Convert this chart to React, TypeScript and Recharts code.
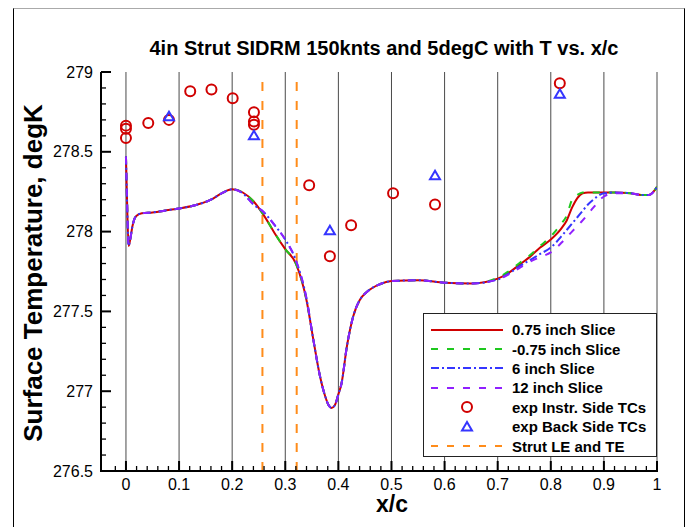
import React from 'react';
import {
  ComposedChart,
  Line,
  Scatter,
  XAxis,
  YAxis,
  ReferenceLine,
} from 'recharts';

// x/c stations of the CFD surface slices
const CURVE_X = [
  0, 0.002, 0.005, 0.008, 0.012, 0.016, 0.02, 0.03, 0.05, 0.08, 0.1, 0.13, 0.16, 0.18, 0.2, 0.22,
  0.24, 0.26, 0.28, 0.3, 0.32, 0.34, 0.353, 0.365, 0.375, 0.382, 0.387, 0.393, 0.4, 0.406, 0.416,
  0.428, 0.44, 0.453, 0.478, 0.5, 0.55, 0.6, 0.65, 0.7, 0.72, 0.74, 0.76, 0.78, 0.8, 0.82, 0.83,
  0.84, 0.85, 0.86, 0.87, 0.88, 0.9, 0.92, 0.95, 0.97, 0.985, 1.0,
];

const SLICE_075 = [
  278.47, 278.2, 277.91, 277.95, 278.03, 278.08, 278.1, 278.115, 278.12, 278.135, 278.145, 278.165,
  278.2, 278.24, 278.265, 278.245, 278.19, 278.1, 277.99, 277.89, 277.8, 277.57, 277.32, 277.1,
  276.97, 276.91, 276.895, 276.91, 276.98, 277.05, 277.28, 277.47, 277.57, 277.62, 277.67, 277.69,
  277.695, 277.68, 277.675, 277.705, 277.74, 277.79, 277.84, 277.9, 277.95, 278.02, 278.07, 278.15,
  278.21, 278.24, 278.245, 278.245, 278.245, 278.245, 278.24, 278.23, 278.23, 278.28,
];

const SLICE_M075 = [
  278.47, 278.2, 277.91, 277.95, 278.03, 278.08, 278.1, 278.115, 278.12, 278.135, 278.145, 278.165,
  278.2, 278.24, 278.265, 278.245, 278.19, 278.1, 277.99, 277.89, 277.8, 277.57, 277.32, 277.1,
  276.97, 276.91, 276.895, 276.91, 276.98, 277.05, 277.28, 277.47, 277.57, 277.62, 277.67, 277.69,
  277.695, 277.68, 277.675, 277.71, 277.75, 277.8, 277.85, 277.91, 277.97, 278.05, 278.1, 278.2,
  278.23, 278.245, 278.245, 278.245, 278.245, 278.245, 278.24, 278.23, 278.23, 278.28,
];

const SLICE_6 = [
  278.47, 278.2, 277.91, 277.95, 278.03, 278.08, 278.1, 278.115, 278.12, 278.135, 278.145, 278.165,
  278.2, 278.24, 278.265, 278.24, 278.17, 278.12, 278.04, 277.95, 277.82, 277.58, 277.32, 277.1,
  276.97, 276.91, 276.895, 276.91, 276.98, 277.05, 277.28, 277.47, 277.57, 277.62, 277.67, 277.69,
  277.695, 277.68, 277.675, 277.7, 277.735, 277.78, 277.82, 277.86, 277.9, 277.97, 278.01, 278.05,
  278.09, 278.13, 278.17, 278.2, 278.24, 278.245, 278.24, 278.23, 278.23, 278.28,
];

const SLICE_12 = [
  278.47, 278.2, 277.91, 277.95, 278.03, 278.08, 278.1, 278.115, 278.12, 278.135, 278.145, 278.165,
  278.2, 278.24, 278.265, 278.24, 278.17, 278.12, 278.04, 277.95, 277.82, 277.58, 277.32, 277.1,
  276.97, 276.91, 276.895, 276.91, 276.98, 277.05, 277.28, 277.47, 277.57, 277.62, 277.67, 277.69,
  277.695, 277.68, 277.675, 277.7, 277.73, 277.77, 277.81, 277.84, 277.87, 277.93, 277.965, 278.0,
  278.035, 278.07, 278.11, 278.15, 278.22, 278.24, 278.24, 278.23, 278.23, 278.28,
];

// thermocouple readings
const INSTR_X = [0, 0, 0, 0.042, 0.081, 0.121, 0.161, 0.201, 0.241, 0.241, 0.241, 0.345, 0.384, 0.424, 0.503, 0.582, 0.817];
const INSTR_T = [278.664, 278.644, 278.586, 278.68, 278.7, 278.88, 278.89, 278.835, 278.748, 278.69, 278.67, 278.29, 277.846, 278.04, 278.24, 278.17, 278.93];
const BACK_X = [0.081, 0.241, 0.384, 0.582, 0.817];
const BACK_T = [278.72, 278.6, 278.006, 278.35, 278.86];

const STRUT_LE_TE = [0.257, 0.3215];

const X_TICKS = [0, 0.1, 0.2, 0.3, 0.4, 0.5, 0.6, 0.7, 0.8, 0.9, 1];
const Y_TICKS = [276.5, 277, 277.5, 278, 278.5, 279];
const X_MINOR = Array.from({ length: 52 }, (_, i) => Math.round((i * 0.02 - 0.02) * 1000) / 1000);
const Y_MINOR = Array.from({ length: 26 }, (_, i) => Math.round((276.5 + i * 0.1) * 10) / 10);

const X_MIN = -0.047;
const X_MAX = 1;
const Y_MIN = 276.5;
const Y_MAX = 279;

const FONT = "Arial, 'Liberation Sans', Helvetica, sans-serif";
const RED = '#d00000';
const GREEN = '#1ec81e';
const BLUE = '#3535ff';
const PURPLE = '#9020ff';
const ORANGE = '#ff8c1a';

// chart box
const W = 694;
const H = 527;
const MARGIN = { top: 72, right: 37, bottom: 26, left: 0 };
const Y_AXIS_W = 101;
const X_AXIS_H = 30;
const PLOT_L = MARGIN.left + Y_AXIS_W;
const PLOT_R = W - MARGIN.right;
const PLOT_T = MARGIN.top;
const PLOT_B = H - MARGIN.bottom - X_AXIS_H;

const SERIES = [
  { key: 's075', name: '0.75 inch Slice', color: RED, dash: undefined as string | undefined, values: SLICE_075 },
  { key: 'sm075', name: '-0.75 inch Slice', color: GREEN, dash: '7 9', values: SLICE_M075 },
  { key: 's6', name: '6 inch Slice', color: BLUE, dash: '8 3 2 3', values: SLICE_6 },
  { key: 's12', name: '12 inch Slice', color: PURPLE, dash: '7 9', values: SLICE_12 },
];

const curveRows = CURVE_X.map((x, i) => {
  const row: Record<string, number> = { x };
  SERIES.forEach((s) => (row[s.key] = s.values[i]));
  return row;
});
const instrPts = INSTR_X.map((x, i) => ({ x, y: INSTR_T[i] }));
const backPts = BACK_X.map((x, i) => ({ x, y: BACK_T[i] }));

const isMajor = (list: number[], v: number) => list.some((t) => Math.abs(t - v) < 1e-6);

const RingShape = (props: any) => (
  <circle cx={props.cx} cy={props.cy} r={5} fill="none" stroke={RED} strokeWidth={2} />
);
const TriShape = (props: any) => {
  const { cx, cy } = props;
  return (
    <polygon
      points={`${cx},${cy - 5} ${cx - 5},${cy + 3.5} ${cx + 5},${cy + 3.5}`}
      fill="none"
      stroke={BLUE}
      strokeWidth={2}
    />
  );
};

// left/bottom axis frame with tecplot-style inward ticks, laid over the plot
function AxisFrame() {
  const px = (v: number) => PLOT_L + ((v - X_MIN) / (X_MAX - X_MIN)) * (PLOT_R - PLOT_L);
  const py = (v: number) => PLOT_B - ((v - Y_MIN) / (Y_MAX - Y_MIN)) * (PLOT_B - PLOT_T);
  return (
    <svg
      width={W}
      height={H}
      style={{ position: 'absolute', left: 0, top: 0, pointerEvents: 'none' }}
    >
      <line x1={PLOT_L} x2={PLOT_R + 1} y1={PLOT_B} y2={PLOT_B} stroke="#000" strokeWidth={2} />
      <line x1={PLOT_L} x2={PLOT_L} y1={PLOT_T} y2={PLOT_B + 1} stroke="#000" strokeWidth={2} />
      {X_MINOR.map((v) => {
        const major = isMajor(X_TICKS, v);
        return (
          <line
            key={`xt${v}`}
            x1={px(v)}
            x2={px(v)}
            y1={PLOT_B}
            y2={PLOT_B - (major ? 10 : 5)}
            stroke="#000"
            strokeWidth={major ? 2 : 1.3}
          />
        );
      })}
      {Y_MINOR.map((v) => {
        const major = isMajor(Y_TICKS, v);
        return (
          <line
            key={`yt${v}`}
            x1={PLOT_L}
            x2={PLOT_L + (major ? 10 : 5)}
            y1={py(v)}
            y2={py(v)}
            stroke="#000"
            strokeWidth={major ? 2 : 1.3}
          />
        );
      })}
    </svg>
  );
}

function LegendBox() {
  const rows = [
    ...SERIES.map((s) => ({ name: s.name, kind: 'line', color: s.color, dash: s.dash })),
    { name: 'exp Instr. Side TCs', kind: 'ring', color: RED, dash: undefined },
    { name: 'exp Back Side TCs', kind: 'tri', color: BLUE, dash: undefined },
    { name: 'Strut LE and TE', kind: 'line', color: ORANGE, dash: '7 9' },
  ];
  return (
    <div
      style={{
        position: 'absolute',
        left: 423,
        top: 313,
        width: 234,
        height: 144,
        boxSizing: 'border-box',
        border: '1px solid #222',
        background: '#fff',
        paddingTop: 6,
      }}
    >
      {rows.map((r) => (
        <div key={r.name} style={{ display: 'flex', alignItems: 'center', height: 19.4 }}>
          <svg width={88} height={14} style={{ flex: 'none' }}>
            {r.kind === 'line' && (
              <line x1={7} x2={79} y1={7} y2={7} stroke={r.color} strokeWidth={2} strokeDasharray={r.dash} />
            )}
            {r.kind === 'ring' && <circle cx={43} cy={7} r={5} fill="none" stroke={r.color} strokeWidth={2} />}
            {r.kind === 'tri' && (
              <polygon points="43,2 38,10.5 48,10.5" fill="none" stroke={r.color} strokeWidth={2} />
            )}
          </svg>
          <span style={{ fontFamily: FONT, fontWeight: 700, fontSize: 15, color: '#000', whiteSpace: 'nowrap' }}>
            {r.name}
          </span>
        </div>
      ))}
    </div>
  );
}

export default function App() {
  return (
    <div
      style={{
        position: 'absolute',
        left: 0,
        top: 0,
        width: W,
        height: H,
        background: '#fff',
        overflow: 'hidden',
        fontFamily: FONT,
      }}
    >
      {/* outer page frame */}
      <div
        style={{
          position: 'absolute',
          left: 13,
          top: 8,
          width: 672,
          height: 540,
          boxSizing: 'border-box',
          borderTop: '1px solid #aaa',
          borderLeft: '1px solid #000',
          borderRight: '1px solid #000',
        }}
      />

      <div
        style={{
          position: 'absolute',
          left: 384,
          top: 37,
          transform: 'translateX(-50%)',
          fontWeight: 700,
          fontSize: 20,
          whiteSpace: 'nowrap',
          color: '#000',
        }}
      >
        4in Strut SIDRM 150knts and 5degC with T vs. x/c
      </div>

      <ComposedChart
        width={W}
        height={H}
        data={curveRows}
        margin={MARGIN}
        style={{ position: 'absolute', left: 0, top: 0 }}
      >
        <XAxis
          dataKey="x"
          type="number"
          domain={[X_MIN, X_MAX]}
          allowDataOverflow
          ticks={X_TICKS}
          interval={0}
          tickLine={false}
          axisLine={false}
          tickSize={6}
          tickMargin={2}
          tick={{ fill: '#000', fontSize: 16, fontFamily: FONT }}
          height={X_AXIS_H}
        />
        <YAxis
          type="number"
          domain={[Y_MIN, Y_MAX]}
          allowDataOverflow
          ticks={Y_TICKS}
          interval={0}
          tickLine={false}
          axisLine={false}
          tickSize={6}
          tickMargin={2}
          tick={{ fill: '#000', fontSize: 16, fontFamily: FONT }}
          width={Y_AXIS_W}
        />

        {/* vertical grid at the labelled x/c stations */}
        {X_TICKS.map((x) => (
          <ReferenceLine key={`g${x}`} x={x} stroke="#4a4a4a" strokeWidth={1} ifOverflow="visible" />
        ))}

        {STRUT_LE_TE.map((x) => (
          <ReferenceLine key={`s${x}`} x={x} stroke={ORANGE} strokeWidth={2} strokeDasharray="9 10" />
        ))}

        {SERIES.map((s) => (
          <Line
            key={s.key}
            dataKey={s.key}
            type="monotone"
            stroke={s.color}
            strokeWidth={2}
            strokeDasharray={s.dash}
            dot={false}
            activeDot={false}
            isAnimationActive={false}
          />
        ))}

        <Scatter data={instrPts} dataKey="y" shape={RingShape} isAnimationActive={false} />
        <Scatter data={backPts} dataKey="y" shape={TriShape} isAnimationActive={false} />
      </ComposedChart>

      <AxisFrame />

      <LegendBox />

      <div
        style={{
          position: 'absolute',
          left: 33,
          top: 273,
          transform: 'translate(-50%, -50%) rotate(-90deg)',
          fontWeight: 700,
          fontSize: 26,
          whiteSpace: 'nowrap',
          color: '#000',
        }}
      >
        Surface Temperature, degK
      </div>
      <div
        style={{
          position: 'absolute',
          left: 392,
          top: 504,
          transform: 'translate(-50%, -50%)',
          fontWeight: 700,
          fontSize: 23,
          whiteSpace: 'nowrap',
          color: '#000',
        }}
      >
        x/c
      </div>
    </div>
  );
}
